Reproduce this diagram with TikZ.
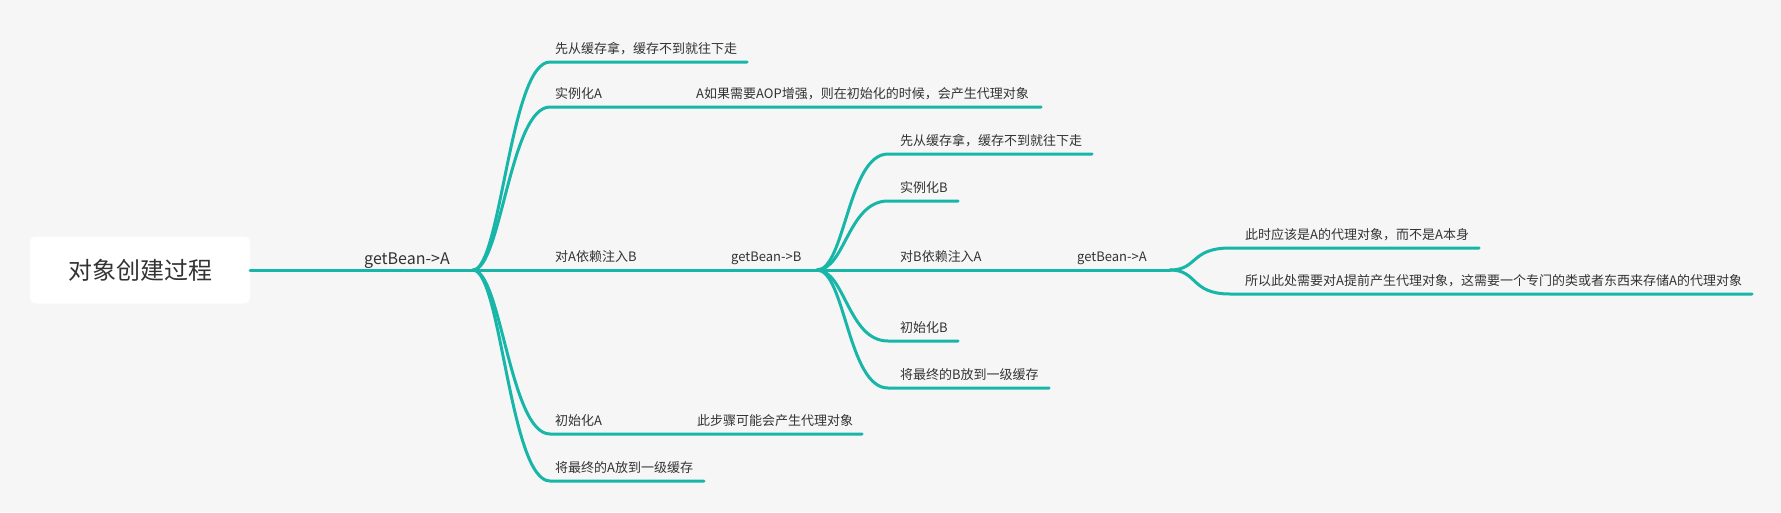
\documentclass[tikz,border=0pt]{standalone}
\usepackage{fontspec}
\setmainfont{Noto Sans CJK SC}
\usetikzlibrary{positioning}
\definecolor{branchC}{HTML}{17B6A8}
\definecolor{ink}{HTML}{333333}
\definecolor{paper}{HTML}{F6F6F6}

\begin{document}
\begin{tikzpicture}[
  x=1pt, y=-1pt,
  txt/.style    ={anchor=base west, inner sep=0pt, text=ink, font=\fontsize{13}{15}\selectfont},
  rootbox/.style={fill=white, rounded corners=6pt, minimum width=220pt, minimum height=67pt,
                  text=ink, font=\fontsize{24}{28}\selectfont},
  link/.style   ={draw=branchC, line width=3pt, line cap=round},
  curve/.style  ={to path={.. controls +(28,0) and +(-40,0) .. (\tikztotarget)}}
]
\fill[paper] (0,0) rectangle (1781,512);
\useasboundingbox (0,0) rectangle (1781,512);

\node[rootbox] (root) at (140,270) {对象创建过程};
\node[txt, font=\fontsize{16}{18}\selectfont] (getA) at (364,264) {getBean->A};

\coordinate (f1) at (473,270);
\coordinate (f2) at (817,270);
\coordinate (f3) at (1170,270);
\draw[link] (root) -- (f1) -- (f2) -- (f3);

% first level
\node[txt] (cacheA)  at (555,53)  {先从缓存拿，缓存不到就往下走};
\node[txt] (newA)    at (555,98)  {实例化A};
\node[txt] (aopA)    at (696,98)  {A如果需要AOP增强，则在初始化的时候，会产生代理对象};
\node[txt] (injA)    at (555,261) {对A依赖注入B};
\node[txt] (getB)    at (731,261) {getBean->B};
\node[txt] (initA)   at (555,425) {初始化A};
\node[txt] (proxyA)  at (697,425) {此步骤可能会产生代理对象};
\node[txt] (storeA)  at (555,472) {将最终的A放到一级缓存};

\coordinate (cacheA-s) at (550,62);  \coordinate (cacheA-e) at (747,62);
\coordinate (newA-s)   at (550,107); \coordinate (newA-e)   at (1041,107);
\coordinate (initA-s)  at (550,434); \coordinate (initA-e)  at (862,434);
\coordinate (storeA-s) at (550,481); \coordinate (storeA-e) at (704,481);
\draw[link] (f1) to[curve] (cacheA-s) -- (cacheA-e);
\draw[link] (f1) to[curve] (newA-s) -- (newA-e);
\draw[link] (f1) to[curve] (initA-s) -- (initA-e);
\draw[link] (f1) to[curve] (storeA-s) -- (storeA-e);

% second level
\node[txt] (cacheB)  at (900,145) {先从缓存拿，缓存不到就往下走};
\node[txt] (newB)    at (900,192) {实例化B};
\node[txt] (injB)    at (900,261) {对B依赖注入A};
\node[txt] (getA2)   at (1077,261) {getBean->A};
\node[txt] (initB)   at (900,332) {初始化B};
\node[txt] (storeB)  at (900,379) {将最终的B放到一级缓存};

\coordinate (cacheB-s) at (888,154); \coordinate (cacheB-e) at (1092,154);
\coordinate (newB-s)   at (888,201); \coordinate (newB-e)   at (958,201);
\coordinate (initB-s)  at (888,341); \coordinate (initB-e)  at (958,341);
\coordinate (storeB-s) at (888,388); \coordinate (storeB-e) at (1049,388);
\draw[link] (f2) to[curve] (cacheB-s) -- (cacheB-e);
\draw[link] (f2) to[curve] (newB-s) -- (newB-e);
\draw[link] (f2) to[curve] (initB-s) -- (initB-e);
\draw[link] (f2) to[curve] (storeB-s) -- (storeB-e);

% third level
\node[txt] (early)  at (1245,239) {此时应该是A的代理对象，而不是A本身};
\node[txt] (holder) at (1245,285) {所以此处需要对A提前产生代理对象，这需要一个专门的类或者东西来存储A的代理对象};

\coordinate (early-s)  at (1230,248); \coordinate (early-e)  at (1479,248);
\coordinate (holder-s) at (1230,294); \coordinate (holder-e) at (1752,294);
\draw[link] (f3) to[curve] (early-s) -- (early-e);
\draw[link] (f3) to[curve] (holder-s) -- (holder-e);
\end{tikzpicture}
\end{document}
